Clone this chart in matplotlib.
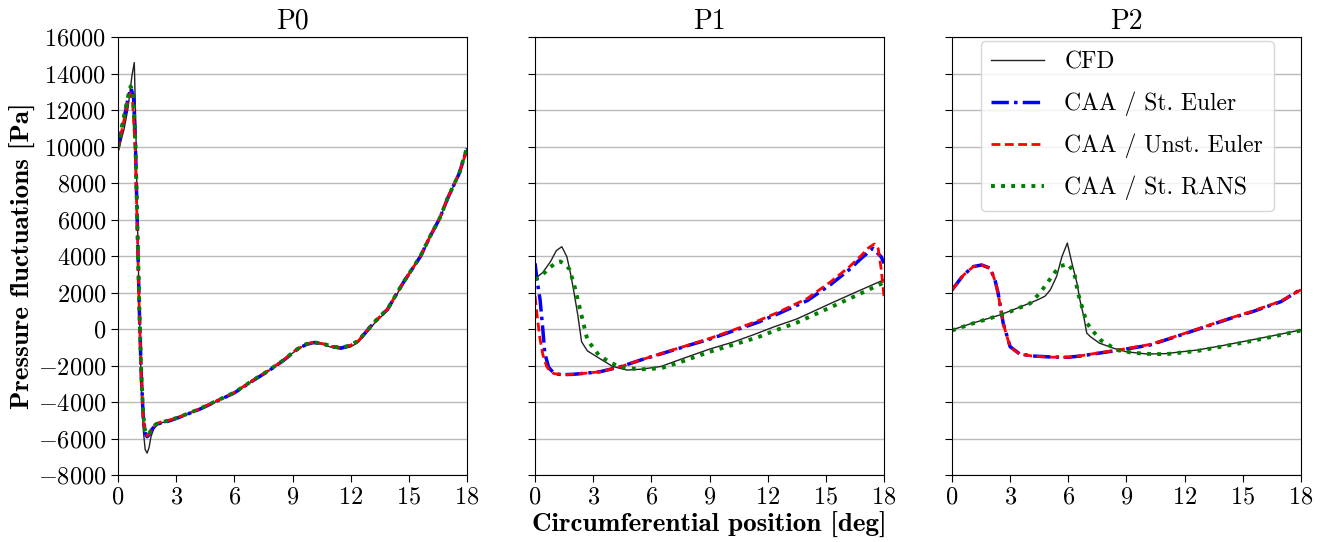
import numpy as np
import matplotlib
matplotlib.use("Agg")
import matplotlib.pyplot as plt

plt.rcParams['font.family'] = 'serif'
plt.rcParams['font.serif'] = ['cmr10']
plt.rcParams['mathtext.fontset'] = 'cm'
plt.rcParams['axes.formatter.use_mathtext'] = True
plt.rcParams['axes.unicode_minus'] = True

titles = ["P0", "P1", "P2"]
labels = ["CFD", "CAA / St. Euler", "CAA / Unst. Euler", "CAA / St. RANS"]

# ---- P0 ----
p0_cfd_x = [0, 0.3, 0.5, 0.62, 0.72, 0.84, 0.92, 1.0, 1.1, 1.2, 1.3, 1.4, 1.5, 1.6, 1.7, 1.85, 2.1, 2.5, 3.0, 3.5, 4.2,
            5.0, 6.0, 7.0, 7.7, 8.5, 9.2, 9.7, 10.1, 10.6, 11.0, 11.5, 12.0, 12.4, 13.2, 13.9, 14.7, 15.6, 16.1, 16.6,
            17.0, 17.6, 18.0]
p0_cfd_y = [9700, 10900, 12000, 13000, 13900, 14600, 11000, 6000, 1000, -3000, -5500, -6600, -6800, -6500, -5900,
            -5450, -5200, -5050, -4900, -4700, -4400, -4000, -3500, -2800, -2340, -1750, -1150, -850, -760, -850,
            -1000, -1100, -980, -720, 280, 1020, 2480, 3940, 5040, 6050, 7140, 8510, 9850]

p0_st_x = [0, 0.2, 0.4, 0.55, 0.67, 0.8, 0.9, 1.0, 1.1, 1.2, 1.3, 1.4, 1.5, 1.6, 1.75, 1.95, 2.2, 2.6, 3.0, 3.5, 4.2,
           5.0, 6.0, 7.0, 7.7, 8.5, 9.2, 9.7, 10.1, 10.6, 11.0, 11.5, 12.0, 12.4, 13.2, 13.9, 14.7, 15.6, 16.1, 16.6,
           17.0, 17.6, 18.0]
p0_st_y = [9900, 11000, 12000, 12800, 13200, 12700, 10000, 5500, 1000, -2500, -4800, -5700, -5900, -5800, -5500,
           -5250, -5150, -5050, -4900, -4700, -4400, -4000, -3500, -2800, -2340, -1750, -1150, -850, -740, -820, -960,
           -1040, -900, -650, 350, 1080, 2520, 3980, 5080, 6080, 7160, 8530, 9900]

p0_un_x = [0, 0.2, 0.4, 0.52, 0.62, 0.75, 0.88, 1.0, 1.1, 1.2, 1.3, 1.4, 1.5, 1.6, 1.75, 1.95, 2.2, 2.6, 3.0, 3.5,
           4.2, 5.0, 6.0, 7.0, 7.7, 8.5, 9.2, 9.7, 10.1, 10.6, 11.0, 11.5, 12.0, 12.4, 13.2, 13.9, 14.7, 15.6, 16.1,
           16.6, 17.0, 17.6, 18.0]
p0_un_y = [9800, 10900, 11900, 12500, 12900, 12500, 10000, 5200, 800, -2600, -4900, -5700, -5850, -5750, -5450,
           -5200, -5100, -5000, -4880, -4680, -4380, -3980, -3480, -2780, -2320, -1730, -1130, -830, -730, -810, -950,
           -1030, -890, -640, 360, 1090, 2530, 3990, 5090, 6090, 7170, 8540, 9850]

p0_ra_x = [0, 0.2, 0.4, 0.55, 0.65, 0.78, 0.9, 1.0, 1.1, 1.2, 1.3, 1.4, 1.5, 1.6, 1.75, 1.95, 2.2, 2.6, 3.0, 3.5, 4.2,
           5.0, 6.0, 7.0, 7.7, 8.5, 9.2, 9.7, 10.1, 10.6, 11.0, 11.5, 12.0, 12.4, 13.2, 13.9, 14.7, 15.6, 16.1, 16.6,
           17.0, 17.6, 18.0]
p0_ra_y = [9950, 11100, 12150, 12900, 13300, 12900, 10200, 5600, 1100, -2400, -4700, -5600, -5800, -5750, -5450,
           -5220, -5120, -5020, -4880, -4680, -4380, -3980, -3480, -2780, -2320, -1730, -1130, -830, -730, -810, -950,
           -1030, -890, -640, 360, 1090, 2530, 3990, 5090, 6090, 7170, 8540, 9950]

# ---- P1 ----
p1_cfd_x = [0, 0.4, 0.8, 1.1, 1.38, 1.64, 1.8, 1.96, 2.2, 2.4, 2.7, 3.2, 4.0, 4.74, 5.5, 6.5, 7.67, 9.0, 10.26, 11.3,
            12.33, 13.5, 15.26, 16.5, 18]
p1_cfd_y = [2750, 3100, 3700, 4300, 4510, 3960, 3200, 2300, 800, -700, -1200, -1530, -2050, -2250, -2200, -2050,
            -1600, -1100, -700, -300, 120, 550, 1410, 2000, 2700]

p1_st_x = [0, 0.1, 0.26, 0.4, 0.5, 0.7, 0.95, 1.2, 1.5, 2.0, 3.0, 3.36, 4.4, 5.5, 6.81, 8.0, 9.05, 10.26, 11.5, 12.5,
           14.05, 15.26, 16.2, 16.8, 17.42, 17.85, 18]
p1_st_y = [3600, 2700, 1590, 0, -1310, -2100, -2400, -2480, -2500, -2480, -2380, -2340, -2070, -1680, -1260, -870,
           -540, -90, 370, 820, 1560, 2450, 3250, 3850, 4420, 3960, 3600]

p1_un_x = [0, 0.1, 0.25, 0.4, 0.6, 0.8, 1.0, 1.5, 2.0, 3.0, 3.36, 4.4, 5.5, 6.81, 8.0, 9.05, 10.26, 11.5, 12.5, 14.05,
           15.26, 16.2, 16.8, 17.2, 17.5, 17.7, 17.85, 18]
p1_un_y = [1800, 800, -500, -1400, -2050, -2350, -2450, -2500, -2480, -2380, -2340, -2070, -1680, -1240, -850, -500,
           -40, 450, 900, 1680, 2600, 3400, 4000, 4450, 4660, 4400, 3300, 1750]

p1_ra_x = [0, 0.4, 0.8, 1.1, 1.3, 1.55, 1.78, 2.06, 2.33, 2.7, 3.28, 3.9, 4.5, 5.43, 6.5, 7.67, 9.0, 10.26, 11.5,
           12.33, 13.5, 15.26, 16.5, 18]
p1_ra_y = [2700, 3000, 3400, 3650, 3700, 3550, 3270, 2250, 1040, -600, -1420, -1860, -2100, -2210, -2150, -1750,
           -1250, -850, -450, -100, 350, 1200, 1800, 2550]

# ---- P2 ----
p2_cfd_x = [0, 1.0, 2.0, 2.48, 3.5, 4.2, 4.5, 4.8, 5.07, 5.4, 5.67, 5.95, 6.19, 6.45, 6.6, 6.8, 6.95, 7.14, 7.6, 8.35,
            9.0, 10.07, 11.0, 12.66, 14.0, 15.25, 16.5, 18]
p2_cfd_y = [-50, 300, 620, 770, 1200, 1500, 1640, 1800, 2140, 2890, 3960, 4710, 3600, 2500, 1590, 670, -220, -420,
            -770, -1060, -1250, -1370, -1350, -1150, -900, -640, -380, -50]

p2_st_x = [0, 0.59, 1.1, 1.53, 1.97, 2.22, 2.38, 2.64, 3.0, 3.5, 4.2, 5.05, 6.0, 6.62, 7.6, 8.69, 10.2, 11.8, 13.0,
           14.38, 15.5, 16.97, 18]
p2_st_y = [2140, 2960, 3420, 3510, 3330, 2680, 1970, 330, -970, -1370, -1480, -1530, -1550, -1480, -1320, -1150, -880,
           -330, 100, 590, 950, 1500, 2180]

p2_un_x = [0, 0.59, 1.1, 1.53, 1.97, 2.22, 2.38, 2.64, 3.0, 3.5, 4.2, 5.05, 6.0, 6.62, 7.6, 8.69, 10.2, 11.8, 13.0,
           14.38, 15.5, 16.97, 18]
p2_un_y = [2120, 2950, 3420, 3500, 3320, 2660, 1950, 310, -990, -1380, -1490, -1540, -1550, -1470, -1300, -1130, -850,
           -310, 120, 610, 980, 1530, 2150]

p2_ra_x = [0, 1.0, 2.0, 3.0, 4.04, 4.55, 4.9, 5.3, 5.59, 6.0, 6.31, 6.5, 6.8, 6.97, 7.3, 7.66, 8.5, 9.3, 10.07, 11.0,
           12.66, 14.0, 15.25, 16.5, 18]
p2_ra_y = [-80, 280, 600, 950, 1410, 1990, 2500, 3100, 3450, 3560, 3070, 1970, 880, 310, -150, -600, -1150, -1300,
           -1360, -1380, -1200, -950, -700, -430, -80]

panels = [
    [(p0_cfd_x, p0_cfd_y), (p0_st_x, p0_st_y), (p0_un_x, p0_un_y), (p0_ra_x, p0_ra_y)],
    [(p1_cfd_x, p1_cfd_y), (p1_st_x, p1_st_y), (p1_un_x, p1_un_y), (p1_ra_x, p1_ra_y)],
    [(p2_cfd_x, p2_cfd_y), (p2_st_x, p2_st_y), (p2_un_x, p2_un_y), (p2_ra_x, p2_ra_y)],
]

styles = [
    dict(color='#222222', lw=1.0, ls='-'),
    dict(color='blue', lw=2.5, ls=(0, (5, 1.5, 1, 1.5))),
    dict(color='red', lw=2.0, ls=(0, (3.2, 1.6))),
    dict(color='green', lw=2.8, ls=(0, (1, 1.6))),
]

fig = plt.figure(figsize=(13.29, 5.42), dpi=100)
lefts = [0.0888, 0.4026, 0.7163]
axes = []
for i in range(3):
    ax = fig.add_axes([lefts[i], 0.1236, 0.2626, 0.8081])
    axes.append(ax)
    for (x, y), st, lab in zip(panels[i], styles, labels):
        ax.plot(x, y, label=lab, **st)
    ax.set_xlim(0, 18)
    ax.set_ylim(-8000, 16000)
    ax.set_xticks(np.arange(0, 19, 3))
    ax.set_yticks(np.arange(-8000, 16001, 2000))
    ax.grid(axis='y', color='#bbbbbb', lw=1.0)
    ax.set_axisbelow(True)
    ax.tick_params(labelsize=17.5, length=5)
    ax.set_title(titles[i], fontsize=20, pad=6)
    if i > 0:
        ax.set_yticklabels([])

axes[0].set_ylabel("Pressure fluctuations [Pa]", fontname='cmb10', fontsize=19.5, labelpad=1)
axes[1].set_xlabel("Circumferential position [deg]", fontname='cmb10', fontsize=19.5, labelpad=2)

leg = axes[2].legend(loc='upper right', bbox_to_anchor=(0.922, 0.991), borderaxespad=0,
                     fontsize=17, handlelength=2.25, labelspacing=0.75,
                     borderpad=0.45, handletextpad=0.85, framealpha=0.8, edgecolor='#cccccc')

fig.savefig("out.png", dpi=100)
